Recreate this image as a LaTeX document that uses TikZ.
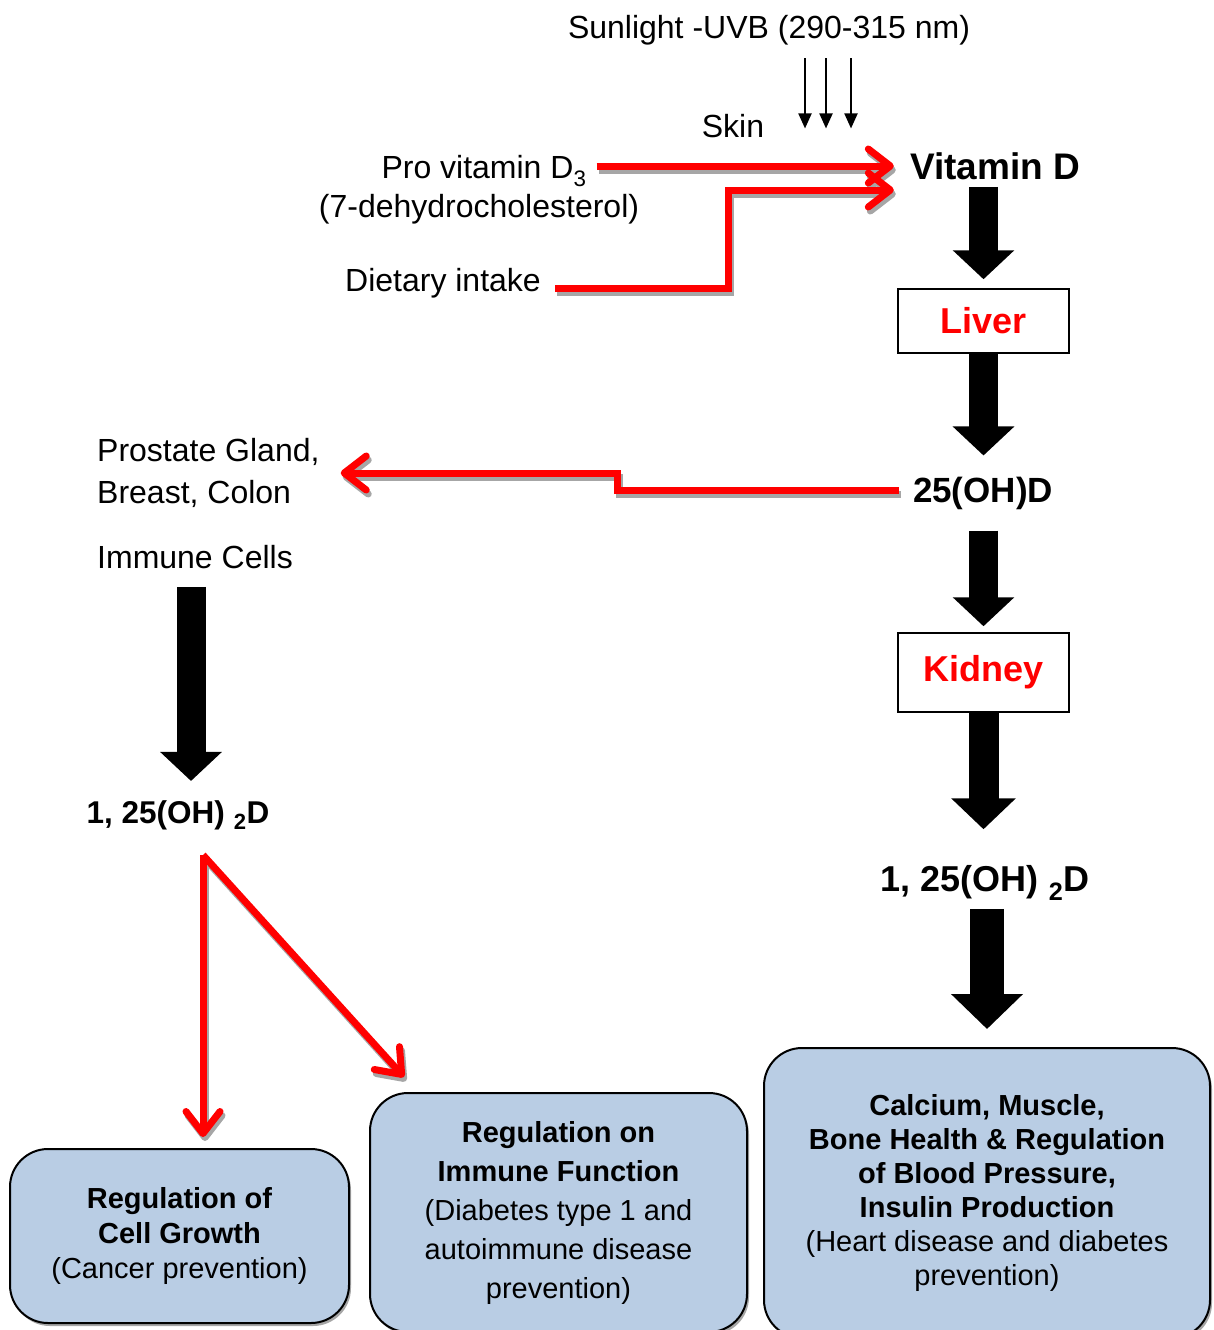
\documentclass[tikz,border=0pt]{standalone}
\usepackage{fontspec}
\setmainfont{Liberation Sans}
\usepackage{tikz}
\usetikzlibrary{arrows.meta,positioning,calc,shadows}
\definecolor{effectblue}{RGB}{185,205,228}
\definecolor{shadowgray}{RGB}{166,166,166}
\tikzset{
  >=Stealth,
  every node/.append style={inner sep=4pt},
}

\begin{document}
\begin{tikzpicture}[x=1pt, y=-1pt,
  lbl/.style={font=\fontsize{32}{38}\selectfont},
  keylbl/.style={font=\fontsize{36}{40}\selectfont\bfseries},
  organ/.style={draw=black, line width=1.5pt, minimum width=171pt,
                text=red, font=\fontsize{36}{40}\selectfont\bfseries},
  effect/.style={draw=black, line width=2pt, rounded corners=38pt,
                 fill=effectblue, align=center,
                 drop shadow={shadow xshift=2pt, shadow yshift=-3pt, fill=black, opacity=0.35}},
  fatarrow/.style={line width=29pt, -{Triangle[length=29pt,width=60pt]}},
  redflow/.style={red, line width=7pt, -{Straight Barb[length=22pt,width=34pt,round]}},
  redshadow/.style={redflow, draw=shadowgray, transform canvas={shift={(2pt,-4pt)}}},
  ray/.style={line width=2pt, -{Triangle[length=15pt,width=13pt]}}
]
\useasboundingbox (0,0) rectangle (1214,1330);

% Sources
\node[lbl] (sun) at (769,30) {Sunlight -UVB (290-315 nm)};
\node[lbl] (skin) at (733,126) {Skin};
\node[lbl] (provit) at (484,171) {Pro vitamin D\textsubscript{3}};
\node[lbl] (dehydro) at (479,209) {(7-dehydrocholesterol)};
\node[lbl] (diet) at (443,283) {Dietary intake};

% Main pathway
\node[keylbl, font=\fontsize{37}{40}\selectfont\bfseries] (vitd) at (995,166) {Vitamin D};
\node[organ, minimum height=64pt] (liver) at (983.5,321) {Liver};
\node[keylbl, font=\fontsize{35}{40}\selectfont\bfseries] (ohd) at (983,493) {25(OH)D};
\node[organ, minimum height=79pt] (kidney) at (983.5,672.5) {Kidney};
\node[keylbl] (calcR) at (985,883) {1, 25(OH) \textsubscript{2}D};

% Extra-renal side
\node[lbl, anchor=west, align=left, font=\fontsize{32}{42}\selectfont] (prostate) at (93,473) {Prostate Gland,\\Breast, Colon};
\node[lbl, anchor=west] (immune) at (93,557) {Immune Cells};
\node[keylbl, font=\fontsize{31.5}{36}\selectfont\bfseries] (calcL) at (178,815) {1, 25(OH) \textsubscript{2}D};

% Effects
\node[effect, minimum width=339pt, minimum height=174pt, font=\fontsize{29}{35}\selectfont]
  (growth) at (179.5,1236) {\textbf{Regulation of}\\\textbf{Cell Growth}\\(Cancer prevention)};
\node[effect, minimum width=377pt, minimum height=239pt, font=\fontsize{29}{39}\selectfont]
  (immunefn) at (558.5,1212.5) {\textbf{Regulation on}\\\textbf{Immune Function}\\(Diabetes type 1 and\\autoimmune disease\\prevention)};
\node[effect, minimum width=446pt, minimum height=290pt, font=\fontsize{29}{34}\selectfont]
  (health) at (987,1193) {\textbf{Calcium, Muscle,}\\\textbf{Bone Health \& Regulation}\\\textbf{of Blood Pressure,}\\\textbf{Insulin Production}\\(Heart disease and diabetes\\prevention)};

% UVB rays
\foreach \rx in {805,826,851}
  \draw[ray, shorten <=9pt, shorten >=9pt] (sun.south -| \rx,0) -- (skin.base -| \rx,0);

% Red flows, shadow first
\coordinate (dietknee) at (728,190);
\coordinate (ohdstep) at (617,473);
\coordinate (calcfork) at (203,855);
\coordinate (immunetip) at (404,1077);
\foreach \layer in {redshadow,redflow} {
  \draw[\layer, shorten >=12pt] ([xshift=6pt]provit.east |- vitd.west) -- (vitd.west);
  \draw[\layer, shorten >=12pt] ([xshift=10pt,yshift=3pt]diet.base east) -| (dietknee) -- (dietknee -| vitd.west);
  \draw[\layer, shorten >=17pt] ([xshift=-10pt,yshift=3pt]ohd.west) -| (ohdstep) -- (ohdstep -| prostate.east);
  \draw[\layer, shorten >=11pt] (calcfork) -- (calcfork |- growth.north);
  \draw[\layer] (calcfork) -- (immunetip);
}

% Black block arrows
\draw[fatarrow, shorten <=3pt, shorten >=9pt] (liver.north |- vitd.south) -- (liver.north);
\draw[fatarrow, shorten >=17pt] (liver.south) -- (liver.south |- ohd.north);
\draw[fatarrow, shorten <=17pt, shorten >=6pt] (kidney.north |- ohd.south) -- (kidney.north);
\draw[fatarrow, line width=30pt, -{Triangle[length=31pt,width=63pt]}, shorten >=32pt] (kidney.south) -- (kidney.south |- calcR.north);
\draw[fatarrow, line width=34pt, -{Triangle[length=35pt,width=70pt]}, shorten <=4pt, shorten >=18pt] ([xshift=2pt]calcR.south) -- ([xshift=2pt]calcR.south |- health.north);
\draw[fatarrow, shorten <=14pt, shorten >=15pt] ([xshift=-4pt]immune.south) -- ([xshift=-4pt]immune.south |- calcL.north);

\end{tikzpicture}
\end{document}
